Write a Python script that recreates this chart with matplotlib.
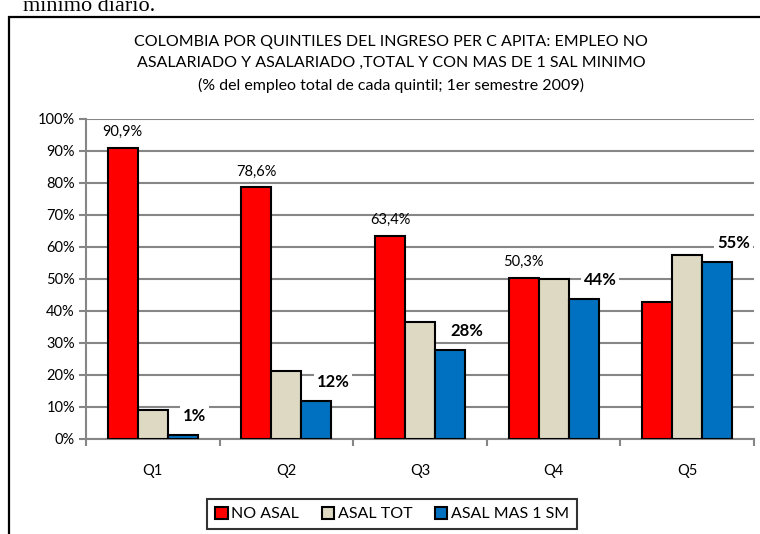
import numpy as np
import matplotlib.pyplot as plt
from matplotlib.patches import Rectangle
from matplotlib.ticker import FuncFormatter

plt.rcParams['font.family'] = ['Lato', 'DejaVu Sans']

quintiles = ["Q1", "Q2", "Q3", "Q4", "Q5"]
series = ["NO ASAL", "ASAL TOT", "ASAL MAS 1 SM"]
no_asal = [90.9, 78.6, 63.4, 50.3, 42.8]
asal_tot = [9.2, 21.4, 36.6, 50.0, 57.5]
asal_sm = [1.2, 11.9, 27.8, 43.6, 55.4]
red_labels = ["90,9%", "78,6%", "63,4%", "50,3%", ""]
blue_labels = ["1%", "12%", "28%", "44%", "55%"]
colors = ["#ff0000", "#ddd9c3", "#0070c0"]

W, H = 760, 534
fig = plt.figure(figsize=(W / 100, H / 100), dpi=100)

# frame of the pasted chart (cut off at right and bottom)
fig.add_artist(Rectangle((9 / W, -0.1), 1.0, (H - 17) / H + 0.1, transform=fig.transFigure,
                         fill=False, edgecolor="black", linewidth=1.6))
# bit of the document text above the chart
fig.text(155 / W, (H - 11) / H, "mínimo diario.", ha="right", va="baseline",
         family="Liberation Serif", fontsize=16)

ax = fig.add_axes([86 / W, 95 / H, (754 - 86) / W, (439 - 119) / H])

x = np.arange(len(quintiles))
bw = 0.225
for i, (vals, c) in enumerate(zip([no_asal, asal_tot, asal_sm], colors)):
    ax.bar(x + (i - 1) * bw, vals, bw, color=c, edgecolor="black", linewidth=1.5,
           label=series[i], zorder=3)

for i in range(len(quintiles)):
    if red_labels[i]:
        ax.text(x[i] - bw, no_asal[i] + 5, red_labels[i], ha="center", va="center",
                fontsize=10.5, zorder=5)
    ax.text(x[i] + bw, asal_sm[i] + 6, blue_labels[i], ha="left", va="center",
            fontsize=12, fontweight="bold", zorder=5,
            bbox=dict(facecolor="white", edgecolor="none", pad=2))

ax.set_xlim(-0.5, len(quintiles) - 0.5)
ax.set_ylim(0, 100)
ax.set_yticks(np.arange(0, 101, 10))
ax.yaxis.set_major_formatter(FuncFormatter(lambda v, p: f"{v:.0f}%"))
ax.set_xticks(x)
ax.set_xticklabels(quintiles)
ax.set_xticks(np.arange(-0.5, len(quintiles), 1), minor=True)
ax.tick_params(axis="x", which="major", length=0, pad=18, labelsize=10.5)
ax.tick_params(axis="x", which="minor", length=5, width=1.5, color="#868686", direction="out")
ax.tick_params(axis="y", length=5, width=1.5, color="#868686", labelsize=10.5, pad=3)
ax.grid(axis="y", color="#868686", linewidth=1.5, zorder=0)
for s in ["top", "right"]:
    ax.spines[s].set_visible(False)
for s in ["left", "bottom"]:
    ax.spines[s].set_color("#868686")
    ax.spines[s].set_linewidth(1.5)

leg = fig.legend(loc="center", ncol=3, frameon=True,
                 fontsize=11.5, handlelength=0.8, handleheight=0.8, handletextpad=0.2,
                 columnspacing=1.4, fancybox=False, borderpad=0.5)
leg.get_frame().set_edgecolor("black")
leg.get_frame().set_linewidth(1.5)
leg.set_bbox_to_anchor((392 / W, 1 - 514 / H), transform=fig.transFigure)

title = ("COLOMBIA POR QUINTILES DEL INGRESO PER C APITA: EMPLEO NO\n"
         "ASALARIADO Y ASALARIADO ,TOTAL Y CON MAS DE 1 SAL MINIMO\n"
         "(% del empleo total de cada quintil; 1er semestre 2009)")
fig.text(391 / W, 1 - 35 / H, title, ha="center", va="top", fontsize=11.5, linespacing=1.65)

fig.savefig("out.png", dpi=100)
